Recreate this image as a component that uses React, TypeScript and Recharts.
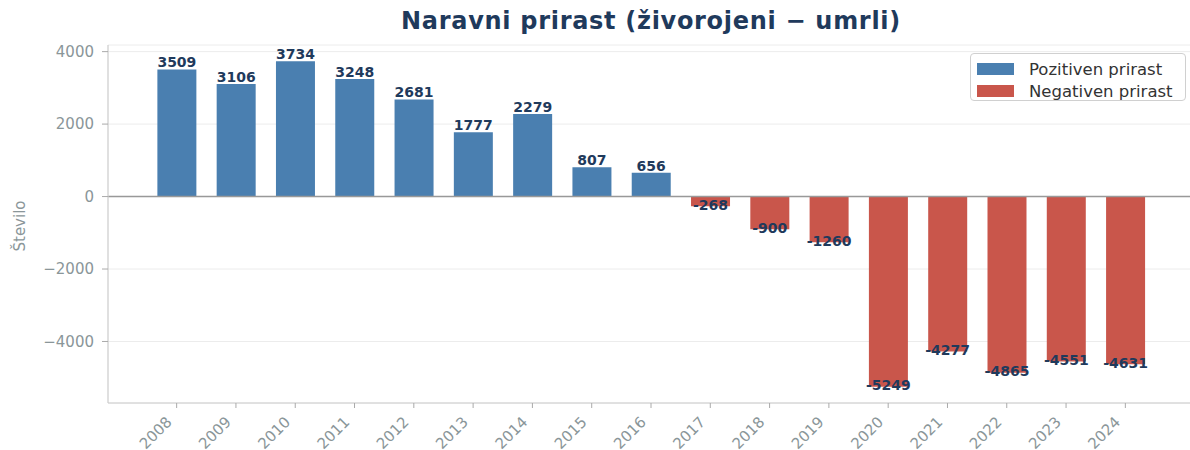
import React from 'react';
import { BarChart, Bar, XAxis, YAxis, CartesianGrid, ReferenceLine, LabelList, Label } from 'recharts';

const years = ['2008', '2009', '2010', '2011', '2012', '2013', '2014', '2015', '2016', '2017', '2018', '2019', '2020', '2021', '2022', '2023', '2024'];
const values = [3509, 3106, 3734, 3248, 2681, 1777, 2279, 807, 656, -268, -900, -1260, -5249, -4277, -4865, -4551, -4631];
const yTicks = [-4000, -2000, 0, 2000, 4000];
const yDomain = [-5698, 4183];
const seriesNames = ['Pozitiven prirast', 'Negativen prirast'];
const title = 'Naravni prirast (živorojeni − umrli)';
const yLabel = 'Število';

const BLUE = '#4a7fb0';
const RED = '#c9564b';
const NAVY = '#1f3a5c';
const GRAY = '#8a9699';
const FONT = '"DejaVu Sans", sans-serif';

const data = years.map((y, i) => ({
  year: y,
  pos: values[i] > 0 ? values[i] : 0,
  neg: values[i] < 0 ? values[i] : 0,
}));

const fmtTick = (v: number) => (v < 0 ? '\u2212' + Math.abs(v) : String(v));

const BarLabel = (props: any) => {
  const { x, y, width, height, value } = props;
  if (!value) return null;
  const top = Math.min(y, y + height);
  const bottom = Math.max(y, y + height);
  const cx = x + width / 2;
  const ty = value > 0 ? top - 2 : bottom + 3.5;
  return (
    <text x={cx} y={ty} textAnchor="middle" fontFamily={FONT} fontWeight="bold" fontSize={14} fill={NAVY}>
      {String(value)}
    </text>
  );
};

const XTick = (props: any) => {
  const { x, y, payload } = props;
  const tx = x - 4;
  const ty = y + 13;
  return (
    <text x={tx} y={ty} transform={`rotate(-45, ${tx}, ${ty})`} textAnchor="end" fontFamily={FONT} fontSize={15} fill={GRAY}>
      {payload.value}
    </text>
  );
};

const LegendBox = () => (
  <div
    style={{
      position: 'absolute',
      left: 970,
      top: 53,
      width: 216,
      height: 48,
      border: '1px solid #d0d0d0',
      borderRadius: 4,
      background: 'rgba(255,255,255,0.85)',
      fontFamily: FONT,
      fontSize: 16.5,
      color: '#333',
      boxSizing: 'border-box',
    }}
  >
    {seriesNames.map((n, i) => (
      <div key={n} style={{ position: 'absolute', left: 6, top: 5 + i * 22, height: 20, display: 'flex', alignItems: 'center', whiteSpace: 'nowrap' }}>
        <span style={{ display: 'inline-block', width: 37, height: 12, background: i === 0 ? BLUE : RED, marginRight: 15 }} />
        <span>{n}</span>
      </div>
    ))}
  </div>
);

export default function App() {
  return (
    <div style={{ position: 'absolute', left: 0, top: 0, width: 1190, height: 450, background: '#fff', overflow: 'hidden' }}>
      <BarChart
        width={1190}
        height={450}
        data={data}
        margin={{ top: 45, right: -4, bottom: 0, left: 0 }}
        barCategoryGap="17.5%"
        stackOffset="sign"
      >
        <text x={651} y={29} textAnchor="middle" fontFamily={FONT} fontWeight="bold" fontSize={24} letterSpacing={0.7} fill={NAVY}>
          {title}
        </text>
        <CartesianGrid vertical={false} stroke="#ececec" strokeWidth={1} />
        <XAxis
          dataKey="year"
          height={47}
          padding={{ left: 39, right: 39 }}
          interval={0}
          tickSize={5}
          tickMargin={2}
          axisLine={{ stroke: '#cccccc', strokeWidth: 1.2 }}
          tickLine={{ stroke: '#aaaaaa' }}
          tick={<XTick />}
        />
        <YAxis
          width={108}
          domain={yDomain}
          ticks={yTicks}
          allowDataOverflow
          tickFormatter={fmtTick}
          tickSize={6}
          tickMargin={8}
          axisLine={{ stroke: '#cccccc', strokeWidth: 1.2 }}
          tickLine={{ stroke: '#aaaaaa' }}
          tick={{ fontFamily: FONT, fontSize: 15, fill: GRAY }}
        >
          <Label
            content={() => (
              <text x={25} y={226} transform="rotate(-90, 25, 226)" textAnchor="middle" fontFamily={FONT} fontSize={15} fill={GRAY}>
                {yLabel}
              </text>
            )}
          />
        </YAxis>
        <Bar dataKey="pos" name={seriesNames[0]} stackId="a" fill={BLUE} isAnimationActive={false}>
          <LabelList dataKey="pos" content={<BarLabel />} />
        </Bar>
        <Bar dataKey="neg" name={seriesNames[1]} stackId="a" fill={RED} isAnimationActive={false}>
          <LabelList dataKey="neg" content={<BarLabel />} />
        </Bar>
        <ReferenceLine y={0} stroke="#999999" strokeWidth={1.5} />
      </BarChart>
      <LegendBox />
    </div>
  );
}
